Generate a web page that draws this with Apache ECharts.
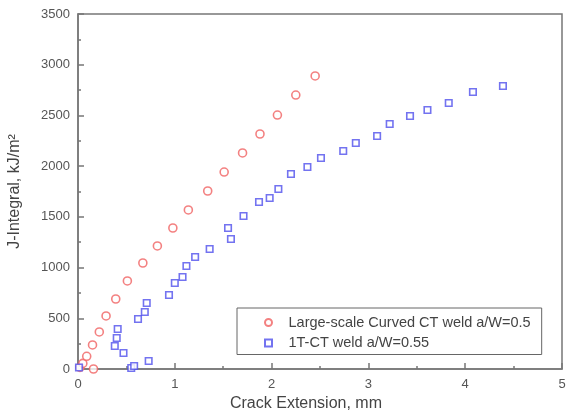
<!DOCTYPE html>
<html>
<head>
<meta charset="utf-8">
<script src="https://cdn.jsdelivr.net/npm/echarts@6/dist/echarts.min.js"></script>
<style>
  html, body { margin: 0; padding: 0; background: #fff; }
  #chart { width: 580px; height: 410px; }
</style>
</head>
<body>
<div id="chart"></div>
<script>
// Large-scale curved CT specimen: crack extension (mm) and J (kJ/m2)
const curvedX = [0.02, 0.05, 0.09, 0.15, 0.16, 0.22, 0.29, 0.39, 0.51, 0.67, 0.82, 0.98, 1.14, 1.34, 1.51, 1.70, 1.88, 2.06, 2.25, 2.45];
const curvedJ = [15, 55, 125, 237, 0, 365, 523, 690, 868, 1045, 1213, 1390, 1568, 1755, 1942, 2130, 2317, 2504, 2701, 2889];

// 1T-CT specimen
const ctX = [0.01, 0.38, 0.40, 0.41, 0.47, 0.55, 0.58, 0.73, 0.62, 0.69, 0.71, 0.94, 1.00, 1.08, 1.12, 1.21, 1.36, 1.55, 1.58, 1.71, 1.87, 1.98, 2.07, 2.20, 2.37, 2.51, 2.74, 2.87, 3.09, 3.22, 3.43, 3.61, 3.83, 4.08, 4.39];
const ctJ = [15, 227, 306, 394, 158, 10, 30, 79, 493, 562, 651, 730, 848, 907, 1015, 1104, 1183, 1390, 1282, 1508, 1646, 1686, 1775, 1923, 1991, 2080, 2149, 2228, 2297, 2415, 2494, 2553, 2622, 2731, 2790];

const seriesNames = ['Large-scale Curved CT weld a/W=0.5', '1T-CT weld a/W=0.55'];

const pairs = (xs, ys) => xs.map((x, i) => [x, ys[i]]);

const axisColor = '#777';
const labelColor = '#555';
const font = 'Liberation Sans, Arial, sans-serif';

const chart = echarts.init(document.getElementById('chart'));

const tickStyle = { color: axisColor, width: 1.5 };

const option = {
    backgroundColor: '#fff',
    animation: false,
    textStyle: { fontFamily: font },
    grid: {
        left: 78,
        right: 18,
        top: 14,
        bottom: 41,
        outerBoundsMode: 'none',
        show: true,
        borderColor: axisColor,
        borderWidth: 1.5,
        backgroundColor: 'transparent'
    },
    legend: {
        orient: 'vertical',
        left: 237,
        top: 308,
        data: seriesNames,
        itemWidth: 7,
        itemHeight: 7,
        itemGap: 5.5,
        padding: [7, 11, 4, 27],
        borderColor: '#666',
        borderWidth: 1,
        textStyle: {
            fontFamily: font,
            fontSize: 14.5,
            color: '#444',
            padding: [0, 0, 0, 11.5]
        }
    },
    xAxis: {
        type: 'value',
        min: 0,
        max: 5,
        interval: 1,
        name: 'Crack Extension, mm',
        nameLocation: 'middle',
        nameGap: 26,
        nameTextStyle: { fontSize: 16, color: '#444', fontFamily: font, padding: [0, 28, 0, 0] },
        axisLine: { show: true, lineStyle: tickStyle },
        axisTick: { show: true, inside: true, length: 6, lineStyle: tickStyle },
        minorTick: { show: true, splitNumber: 2, length: 3, lineStyle: tickStyle },
        axisLabel: { color: labelColor, fontSize: 13, margin: 9, fontFamily: font, formatter: v => String(v) },
        splitLine: { show: false }
    },
    yAxis: {
        type: 'value',
        min: 0,
        max: 3500,
        interval: 500,
        name: 'J-Integral, kJ/m²',
        nameLocation: 'middle',
        nameGap: 55,
        nameTextStyle: { fontSize: 16, color: '#444', fontFamily: font },
        axisLine: { show: true, lineStyle: tickStyle },
        axisTick: { show: true, inside: true, length: 6, lineStyle: tickStyle },
        minorTick: { show: true, splitNumber: 2, length: 3, lineStyle: tickStyle },
        axisLabel: { color: labelColor, fontSize: 13, margin: 8, fontFamily: font, formatter: v => String(v) },
        splitLine: { show: false }
    },
    series: [
        {
            name: seriesNames[0],
            type: 'scatter',
            symbol: 'circle',
            symbolSize: 8,
            data: pairs(curvedX, curvedJ),
            itemStyle: { color: '#fff', borderColor: '#f06262', borderWidth: 1.6 }
        },
        {
            name: seriesNames[1],
            type: 'scatter',
            symbol: 'rect',
            symbolSize: 6.5,
            data: pairs(ctX, ctJ),
            itemStyle: { color: '#fff', borderColor: '#5050ec', borderWidth: 1.6 }
        }
    ]
};

chart.setOption(option);
</script>
</body>
</html>
